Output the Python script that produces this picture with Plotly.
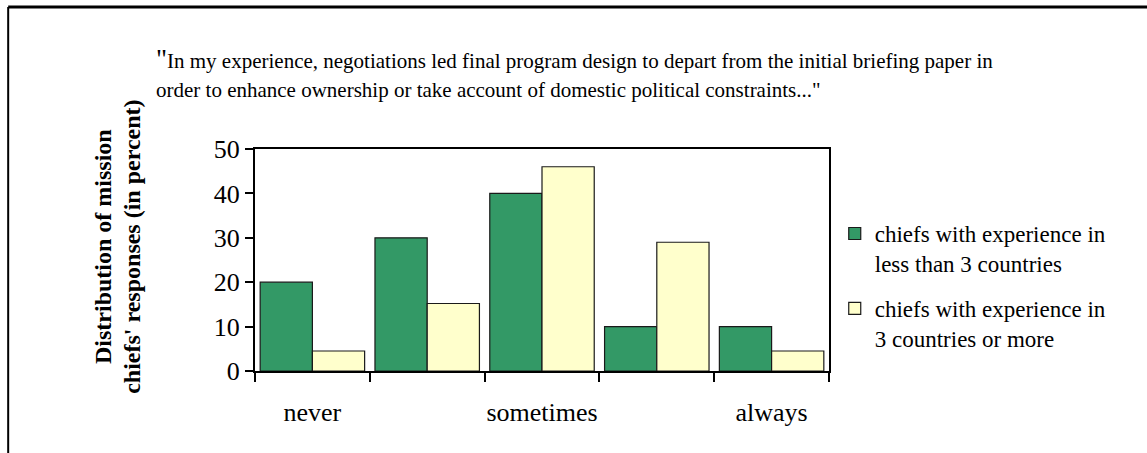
import plotly.graph_objects as go

categories = ["never", "", "sometimes", "", "always"]
less_than_3 = [20, 30, 40, 10, 10]
three_or_more = [4.5, 15.2, 46, 29, 4.5]
series_names = ["chiefs with experience in<br>less than 3 countries",
                "chiefs with experience in<br>3 countries or more"]
y_ticks = [0, 10, 20, 30, 40, 50]
title_lines = ['<span style="font-size:27px">"</span>In my experience, negotiations led final program design to depart from the initial briefing paper in',
               'order to enhance ownership or take account of domestic political constraints..."']
ytitle_lines = ["<b>Distribution of mission</b>", "<b>chiefs' responses (in percent)</b>"]

xpos = list(range(1, len(categories) + 1))
label_pos = [p for p, c in zip(xpos, categories) if c]
label_txt = [c for c in categories if c]

FONT = "Liberation Serif, Times New Roman, serif"

fig = go.Figure()
fig.add_trace(go.Bar(x=xpos, y=less_than_3, name=series_names[0], legendgroup="g1",
                     marker=dict(color="#339966", line=dict(color="#1a1a1a", width=1.2))))
fig.add_trace(go.Bar(x=xpos, y=three_or_more, name=series_names[1], legendgroup="g2",
                     marker=dict(color="#FFFFCC", line=dict(color="#1a1a1a", width=1.2))))

annotations = []
for txt, yy in zip(title_lines, [1.405, 1.266]):
    annotations.append(dict(xref="paper", yref="paper", x=-0.176, y=yy, xanchor="left",
                            yanchor="middle", align="left", showarrow=False, text=txt,
                            font=dict(size=21, family=FONT, color="black")))
for txt, xx in zip(ytitle_lines, [-0.266, -0.214]):
    annotations.append(dict(xref="paper", yref="paper", x=xx, y=0.56, xanchor="center",
                            yanchor="middle", textangle=-90, showarrow=False, text=txt,
                            font=dict(size=24, family=FONT, color="black")))

fig.update_layout(
    width=1147, height=453,
    margin=dict(l=255, r=318, t=149, b=82),
    paper_bgcolor="white", plot_bgcolor="white",
    barmode="group", bargap=0.09, bargroupgap=0,
    font=dict(family=FONT, color="black"),
    showlegend=True,
    legend=dict(x=1.010, y=0.716, xanchor="left", yanchor="top", valign="top",
                font=dict(size=23, family=FONT), tracegroupgap=12,
                bgcolor="rgba(0,0,0,0)"),
    xaxis=dict(range=[0.5, 5.5], tickmode="array", tickvals=label_pos, ticktext=label_txt,
               ticks="", showgrid=False, zeroline=False,
               showline=True, linecolor="black", linewidth=2, mirror=True,
               tickfont=dict(size=26, family=FONT), ticklabelstandoff=17,
               minor=dict(tickmode="array", tickvals=[x + 0.5 for x in range(0, 6)],
                          ticks="outside", ticklen=9, tickwidth=2, tickcolor="black",
                          showgrid=False)),
    yaxis=dict(range=[0, 50], tickmode="array", tickvals=y_ticks,
               ticks="outside", ticklen=8, tickwidth=2, tickcolor="black",
               showgrid=False, zeroline=False,
               showline=True, linecolor="black", linewidth=2, mirror=True,
               tickfont=dict(size=26, family=FONT), ticklabelstandoff=0),
    annotations=annotations,
    shapes=[
        dict(type="line", xref="paper", yref="paper", x0=-0.43, x1=1.56, y0=1.64, y1=1.64,
             line=dict(color="black", width=3)),
        dict(type="line", xref="paper", yref="paper", x0=-0.43, x1=-0.43, y0=1.64, y1=-0.4,
             line=dict(color="black", width=2)),
    ],
)

fig.write_html("out.html")
